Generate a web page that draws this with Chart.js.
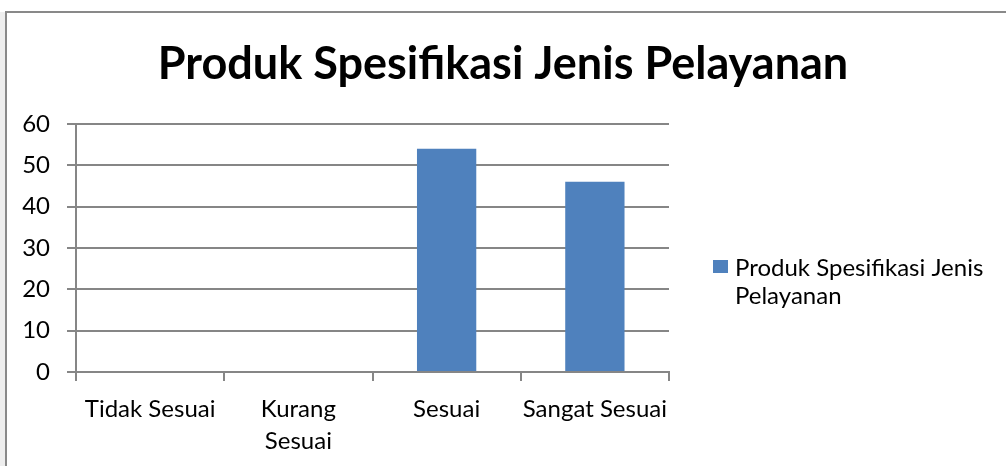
<!DOCTYPE html>
<html>
<head>
<meta charset="utf-8">
<script src="https://cdn.jsdelivr.net/npm/chart.js@4"></script>
<style>
  html, body { margin: 0; padding: 0; background: #fff; }
  #wrap { width: 1006px; height: 466px; }
</style>
</head>
<body>
<div id="wrap"><canvas id="prodChart"></canvas></div>
<script>
var chartTitle = 'Produk Spesifikasi Jenis Pelayanan';
var seriesName = 'Produk Spesifikasi Jenis Pelayanan';
var categories = ['Tidak Sesuai', ['Kurang', 'Sesuai'], 'Sesuai', 'Sangat Sesuai'];
var values = [0, 0, 54, 46];
var yTicks = [0, 10, 20, 30, 40, 50, 60];

var barColor = '#4F81BD';
var axisColor = '#868686';
var fontFamily = 'Lato, Carlito, Calibri, sans-serif';

// outer frame (top and left edge only, like the source picture)
var framePlugin = {
    id: 'frame',
    beforeDraw: function (chart) {
        var ctx = chart.ctx;
        ctx.save();
        ctx.fillStyle = '#fff';
        ctx.fillRect(0, 0, chart.width, chart.height);
        ctx.fillStyle = '#eeeeee';
        ctx.fillRect(0, 12, 5, chart.height);
        ctx.strokeStyle = '#898989';
        ctx.lineWidth = 2;
        ctx.beginPath();
        ctx.moveTo(6, chart.height);
        ctx.lineTo(6, 12);
        ctx.lineTo(chart.width, 12);
        ctx.stroke();
        ctx.restore();
    }
};

// legend drawn by hand so the label can wrap on two lines
var legendPlugin = {
    id: 'wrapLegend',
    afterDraw: function (chart) {
        var ctx = chart.ctx;
        var ds = chart.data.datasets[0];
        ctx.save();
        ctx.fillStyle = ds.backgroundColor;
        ctx.fillRect(713, 260, 15, 13);
        ctx.fillStyle = '#000';
        ctx.font = '24px ' + fontFamily;
        ctx.textBaseline = 'alphabetic';
        ctx.textAlign = 'left';
        ctx.fillText('Produk Spesifikasi Jenis', 735, 276);
        ctx.fillText('Pelayanan', 735, 304);
        ctx.restore();
    }
};

var ctx = document.getElementById('prodChart').getContext('2d');

var prodChart = new Chart(ctx, {
    type: 'bar',
    data: {
        labels: categories,
        datasets: [{
            label: seriesName,
            data: values,
            backgroundColor: barColor,
            borderColor: barColor,
            borderWidth: 0,
            barPercentage: 0.4,
            categoryPercentage: 1.0
        }]
    },
    options: {
        responsive: true,
        maintainAspectRatio: false,
        animation: false,
        layout: {
            padding: { left: 0, right: 0, top: 0, bottom: 0 }
        },
        plugins: {
            legend: { display: false },
            tooltip: { enabled: false },
            title: {
                display: true,
                text: chartTitle,
                color: '#000',
                font: { family: fontFamily, size: 45, weight: 'bold', lineHeight: 1.2 },
                padding: { top: 37, bottom: 33 }
            }
        },
        scales: {
            x: {
                grid: {
                    display: true,
                    drawOnChartArea: false,
                    drawTicks: true,
                    tickLength: 9,
                    color: axisColor,
                    lineWidth: 2,
                    offset: true
                },
                border: { display: true, color: axisColor, width: 2 },
                ticks: {
                    color: '#000',
                    padding: 13,
                    maxRotation: 0,
                    autoSkip: false,
                    font: { family: fontFamily, size: 24, lineHeight: 1.3 }
                },
                afterFit: function (scale) { scale.height = 94; }
            },
            y: {
                min: 0,
                max: 60,
                afterBuildTicks: function (scale) {
                    scale.ticks = yTicks.map(function (v) { return { value: v }; });
                },
                grid: {
                    color: axisColor,
                    lineWidth: 2,
                    tickLength: 9
                },
                border: { display: true, color: axisColor, width: 2 },
                ticks: {
                    color: '#000',
                    padding: 17,
                    font: { family: fontFamily, size: 24 }
                },
                afterFit: function (scale) { scale.width = 76; }
            },
            // empty axis on the right keeps room for the legend
            yRight: {
                position: 'right',
                display: true,
                grid: { display: false, drawTicks: false },
                border: { display: false },
                ticks: { display: false },
                afterFit: function (scale) { scale.width = 337; }
            }
        }
    },
    plugins: [framePlugin, legendPlugin]
});
</script>
</body>
</html>
